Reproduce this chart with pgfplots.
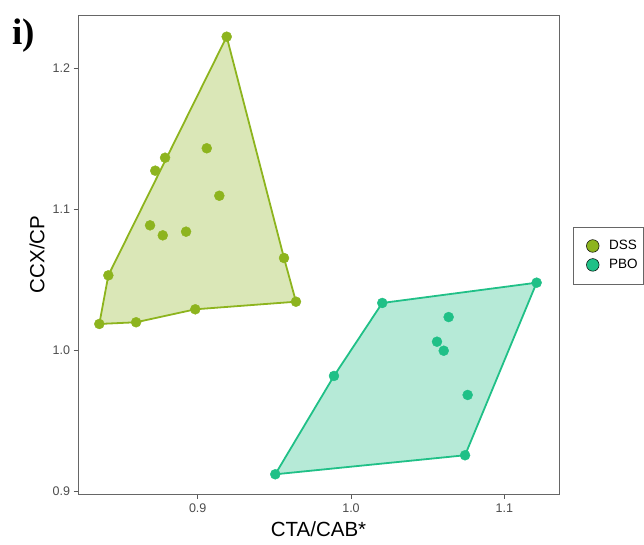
\documentclass[border=0pt]{standalone}
\usepackage{pgfplots}
\pgfplotsset{compat=1.18}
\usepackage{fontspec}
\setmainfont{Liberation Sans}
\newfontfamily\serifb{Liberation Serif}
\definecolor{dssc}{RGB}{141,180,30}
\definecolor{pboc}{RGB}{32,192,135}
\begin{document}
\begin{tikzpicture}
\useasboundingbox (0pt,0pt) rectangle (644pt,544pt);
\node[anchor=base west, font=\serifb\bfseries\fontsize{37}{39}\selectfont, inner sep=0pt] at (12pt,499pt) {i)};
\begin{axis}[
  at={(78pt,50pt)}, anchor=south west,
  scale only axis, width=481pt, height=479pt,
  xmin=0.8219, xmax=1.1357, ymin=0.898, ymax=1.238,
  xtick={0.9,1.0,1.1}, xticklabels={0.9,1.0,1.1},
  ytick={0.9,1.0,1.1,1.2}, yticklabels={0.9,1.0,1.1,1.2},
  xtick pos=bottom, ytick pos=left,
  tick align=outside, major tick length=4.5pt,
  tick style={black!65, line width=0.8pt},
  axis line style={black!60, line width=0.8pt},
  /pgf/number format/assume math mode=true,
  tick label style={font=\fontsize{12.5}{14}\selectfont, text=black!70},
  xticklabel style={yshift=-2pt},
  xlabel={CTA/CAB*}, ylabel={CCX/CP},
  label style={font=\fontsize{20.5}{24}\selectfont},
  xlabel style={at={(axis description cs:0.5,-0.073)}, anchor=center},
  ylabel style={at={(axis description cs:-0.085,0.5)}, anchor=center, rotate=0},
  legend style={at={(axis description cs:1.0295,0.558)}, anchor=north west,
    draw=black!60, line width=0.6pt, font=\fontsize{13.5}{15}\selectfont,
    row sep=4pt, inner xsep=4pt, inner ysep=11.5pt},
  legend cell align=left,
]
\addplot[fill=dssc, fill opacity=0.32, draw=dssc, draw opacity=1, line width=1.8pt, forget plot] coordinates {
(0.9189,1.2226) (0.9563,1.0655) (0.9641,1.0345) (0.8984,1.0291) (0.8598,1.0199) (0.8358,1.0187) (0.8417,1.0532) (0.9189,1.2226)} -- cycle;
\addplot[fill=pboc, fill opacity=0.33, draw=pboc, draw opacity=1, line width=1.8pt, forget plot] coordinates {
(1.1211,1.0480) (1.0744,0.9255) (0.9506,0.9120) (0.9889,0.9818) (1.0204,1.0336) (1.1211,1.0480)} -- cycle;
\addplot[only marks, mark=*, mark size=5pt, mark options={draw=dssc, fill=dssc},
  legend image code/.code={\path (-15pt,0pt) (14pt,0pt); \filldraw[draw=black, fill=dssc, line width=0.5pt] (0pt,0pt) circle (6.3pt);}]
coordinates {
(0.9189,1.2226) (0.9059,1.1434) (0.8787,1.1367) (0.8723,1.1275) (0.9141,1.1097)
(0.8689,1.0887) (0.8772,1.0816) (0.8924,1.0842) (0.9563,1.0655) (0.8417,1.0532)
(0.9641,1.0345) (0.8984,1.0291) (0.8598,1.0199) (0.8358,1.0187)};
\addlegendentry{DSS}
\addplot[only marks, mark=*, mark size=5pt, mark options={draw=pboc, fill=pboc},
  legend image code/.code={\path (-15pt,0pt) (14pt,0pt); \filldraw[draw=black, fill=pboc, line width=0.5pt] (0pt,0pt) circle (6.3pt);}]
coordinates {
(1.1211,1.0480) (1.0204,1.0336) (1.0637,1.0236) (1.0561,1.0061) (1.0605,0.9997)
(0.9889,0.9818) (1.0761,0.9683) (1.0744,0.9255) (0.9506,0.9120)};
\addlegendentry{PBO}
\end{axis}
\end{tikzpicture}
\end{document}
